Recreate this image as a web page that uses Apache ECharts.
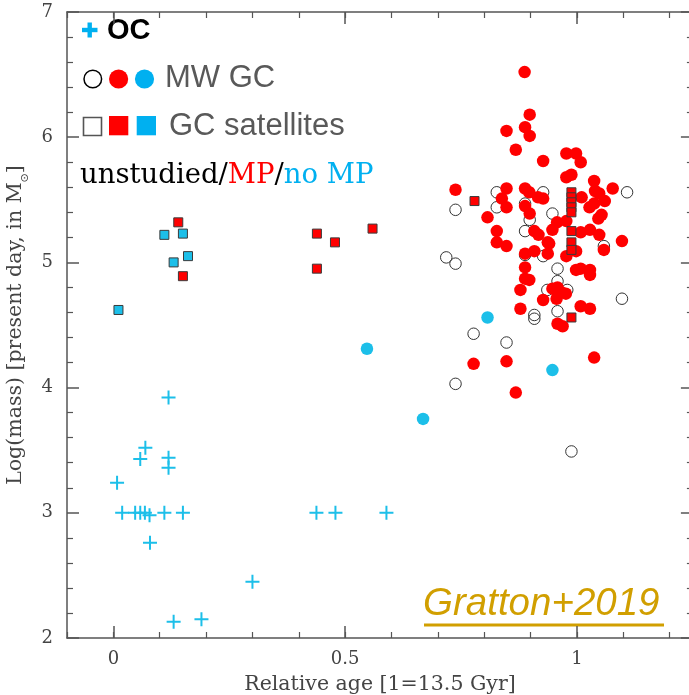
<!DOCTYPE html>
<html>
<head>
<meta charset="utf-8">
<title>Log(mass) vs relative age</title>
<script src="https://cdn.jsdelivr.net/npm/echarts@6/dist/echarts.min.js"></script>
<style>
  html, body { margin: 0; padding: 0; background: #fff; }
  #chart { width: 689px; height: 695px; }
</style>
</head>
<body>
<div id="chart"></div>
<script>
// Milky Way globular clusters: [relative age, log mass]
const mwUnstudied = [
  [0.827, 5.56], [0.738, 5.42], [0.827, 5.44], [0.927, 5.56], [0.888, 5.47],
  [0.898, 5.34], [0.947, 5.39], [0.888, 5.25], [1.108, 5.56], [1.058, 5.13],
  [0.718, 5.04], [0.738, 4.99], [0.888, 5.06], [0.927, 5.05], [0.958, 4.95],
  [0.958, 4.85], [0.936, 4.78], [0.979, 4.78], [0.958, 4.61], [0.908, 4.58],
  [0.908, 4.55], [1.097, 4.71], [0.777, 4.43], [0.848, 4.36], [0.738, 4.03],
  [0.988, 3.49]
];
const mwMP = [
  [0.887, 6.52], [0.898, 6.18], [0.848, 6.05], [0.888, 6.08], [0.898, 6.01],
  [0.868, 5.90], [0.927, 5.81], [0.977, 5.87], [0.998, 5.87], [1.008, 5.80],
  [0.977, 5.68], [0.988, 5.70], [1.037, 5.65], [1.077, 5.59], [0.738, 5.58],
  [0.848, 5.59], [0.838, 5.51], [0.848, 5.44], [0.807, 5.36], [0.827, 5.25],
  [0.827, 5.16], [0.848, 5.13], [0.888, 5.59], [0.897, 5.56], [0.916, 5.52],
  [0.927, 5.51], [0.888, 5.45], [0.898, 5.39], [0.957, 5.32], [0.977, 5.33],
  [0.947, 5.26], [0.908, 5.25], [0.917, 5.22], [0.937, 5.16], [1.010, 5.52],
  [1.039, 5.57], [1.048, 5.55], [1.027, 5.44], [1.037, 5.47], [1.060, 5.49],
  [1.053, 5.38], [1.046, 5.35], [1.008, 5.24], [1.028, 5.26], [1.048, 5.22],
  [1.097, 5.17], [1.058, 5.10], [0.888, 5.07], [0.908, 5.09], [0.937, 5.07],
  [0.940, 5.15], [0.998, 5.09], [0.977, 5.05], [0.888, 4.96], [0.998, 4.94],
  [1.008, 4.95], [1.028, 4.94], [1.028, 4.90], [0.888, 4.87], [0.897, 4.86],
  [0.878, 4.78], [0.947, 4.79], [0.958, 4.80], [0.967, 4.76], [0.976, 4.75],
  [0.927, 4.70], [0.956, 4.71], [0.878, 4.63], [1.008, 4.65], [1.028, 4.63],
  [0.958, 4.51], [0.969, 4.49], [0.777, 4.19], [0.848, 4.21], [1.037, 4.24],
  [0.868, 3.96]
];
const mwNoMP = [
  [0.547, 4.31], [0.807, 4.56], [0.668, 3.75], [0.947, 4.14]
];

// Globular clusters in satellite galaxies
const satMP = [
  [0.140, 5.32], [0.150, 4.89], [0.439, 5.23], [0.478, 5.16], [0.559, 5.27],
  [0.439, 4.95], [0.779, 5.49], [0.988, 5.56], [0.988, 5.52], [0.988, 5.48],
  [0.988, 5.44], [0.988, 5.40], [0.988, 5.25], [0.988, 5.16], [0.988, 5.10],
  [0.988, 4.56]
];
const satNoMP = [
  [0.110, 5.22], [0.150, 5.23], [0.161, 5.05], [0.130, 5.00], [0.011, 4.62]
];

// Open clusters
const openClusters = [
  [0.119, 3.92], [0.069, 3.52], [0.058, 3.43], [0.119, 3.44], [0.119, 3.36],
  [0.008, 3.24], [0.019, 3.00], [0.047, 3.00], [0.058, 3.00], [0.068, 3.00],
  [0.078, 2.98], [0.110, 3.00], [0.150, 3.00], [0.438, 3.00], [0.479, 3.00],
  [0.589, 3.00], [0.079, 2.76], [0.300, 2.45], [0.130, 2.13], [0.190, 2.15]
];

const xMajorTicks = [0, 0.5, 1];
const xTitle = 'Relative age [1=13.5 Gyr]';
const yTitle = 'Log(mass) [present day, in M{sub|\u2299}]';

const RED = '#ff0000';
const CYAN = '#1cbfe9';
const KEY_CYAN = '#00b0f0';
const AXIS = '#555555';
const tickFont = 'DejaVu Serif';
const plusPath = 'path://M6,0h2v6h6v2h-6v6h-2v-6h-6v-2h6z';

const chart = echarts.init(document.getElementById('chart'), null, { renderer: 'canvas' });

const xRange = { min: -0.1, max: 1.25 };
const xMajor = (pos, withLabels) => ({
  type: 'value', position: pos, ...xRange, gridIndex: 0,
  axisLine: { show: true, onZero: false, lineStyle: { color: AXIS, width: 1.5 } },
  axisTick: { show: true, inside: true, length: 12, customValues: xMajorTicks, lineStyle: { color: AXIS, width: 1.5 } },
  axisLabel: withLabels ? {
    show: true, customValues: xMajorTicks, margin: 12,
    fontFamily: tickFont, fontSize: 18, color: '#444'
  } : { show: false },
  splitLine: { show: false },
  name: withLabels ? xTitle : '',
  nameLocation: 'middle', nameGap: 36,
  nameTextStyle: { fontFamily: tickFont, fontSize: 20.5, color: '#444' }
});
const xMinor = (pos) => ({
  type: 'value', position: pos, ...xRange, interval: 0.1, gridIndex: 0,
  axisLine: { show: false },
  axisTick: { show: true, inside: true, length: 6, lineStyle: { color: AXIS, width: 1.2 } },
  axisLabel: { show: false },
  splitLine: { show: false }
});
const yAxisDef = (pos, withLabels) => ({
  type: 'value', position: pos, min: 2, max: 7, interval: 1,
  axisLine: { show: true, onZero: false, lineStyle: { color: AXIS, width: 1.5 } },
  axisTick: { show: true, inside: true, length: 12, lineStyle: { color: AXIS, width: 1.5 } },
  minorTick: { show: true, splitNumber: 5, length: 6, lineStyle: { color: AXIS, width: 1.2 } },
  axisLabel: withLabels ? { show: true, margin: 14, fontFamily: tickFont, fontSize: 18, color: '#444' } : { show: false },
  splitLine: { show: false },
  minorSplitLine: { show: false },
  name: withLabels ? yTitle : '',
  nameLocation: 'middle', nameGap: 27, nameRotate: 90,
  nameTextStyle: {
    fontFamily: tickFont, fontSize: 20.5, color: '#444',
    rich: { sub: { fontFamily: 'DejaVu Sans', fontSize: 11, color: '#444', verticalAlign: 'bottom', lineHeight: 11, padding: [0, 0, -4, 0] } }
  }
});

const option = {
  backgroundColor: '#ffffff',
  animation: false,
  grid: { left: 67, top: 12, width: 625.9, bottom: 57, containLabel: false, outerBoundsMode: 'none' },
  xAxis: [xMajor('bottom', true), xMinor('bottom'), xMajor('top', false), xMinor('top')],
  yAxis: [yAxisDef('left', true), yAxisDef('right', false)],
  series: [
    {
      name: 'MW GC unstudied', type: 'scatter', data: mwUnstudied, symbol: 'circle', symbolSize: 11.5,
      itemStyle: { color: 'rgba(0,0,0,0)', borderColor: '#333', borderWidth: 1, opacity: 1 }, z: 2
    },
    {
      name: 'MW GC MP', type: 'scatter', data: mwMP, symbol: 'circle', symbolSize: 12.5,
      itemStyle: { color: RED, opacity: 1 }, z: 3
    },
    {
      name: 'MW GC no MP', type: 'scatter', data: mwNoMP, symbol: 'circle', symbolSize: 12.5,
      itemStyle: { color: CYAN, opacity: 1 }, z: 3
    },
    {
      name: 'Satellite GC MP', type: 'scatter', data: satMP, symbol: 'rect', symbolSize: 9,
      itemStyle: { color: RED, borderColor: '#3a3a3a', borderWidth: 1, opacity: 1 }, z: 4
    },
    {
      name: 'Satellite GC no MP', type: 'scatter', data: satNoMP, symbol: 'rect', symbolSize: 9,
      itemStyle: { color: CYAN, borderColor: '#3a3a3a', borderWidth: 1, opacity: 1 }, z: 4
    },
    {
      name: 'OC', type: 'scatter', data: openClusters, symbol: plusPath, symbolSize: 14,
      itemStyle: { color: CYAN, opacity: 1 }, z: 5
    }
  ],
  graphic: [
    // key: open clusters
    { type: 'rect', shape: { x: 82, y: 27.8, width: 15.5, height: 4.4 }, style: { fill: KEY_CYAN } },
    { type: 'rect', shape: { x: 87.5, y: 22.5, width: 4.4, height: 15 }, style: { fill: KEY_CYAN } },
    { type: 'text', x: 107, y: 31, style: { text: 'OC', font: 'bold 29px "Liberation Sans", Arial', fill: '#000', verticalAlign: 'middle' } },
    // key: Milky Way globular clusters
    { type: 'circle', shape: { cx: 92.8, cy: 79, r: 8.8 }, style: { fill: 'none', stroke: '#000', lineWidth: 1.5 } },
    { type: 'circle', shape: { cx: 118.6, cy: 79, r: 9.6 }, style: { fill: RED } },
    { type: 'circle', shape: { cx: 144.5, cy: 79, r: 9.6 }, style: { fill: KEY_CYAN } },
    { type: 'text', x: 165, y: 78.5, style: { text: 'MW GC', font: '31px "Liberation Sans", Arial', fill: '#595959', verticalAlign: 'middle' } },
    // key: satellite globular clusters
    { type: 'rect', shape: { x: 83.5, y: 117.5, width: 18, height: 18 }, style: { fill: 'none', stroke: '#555', lineWidth: 1.6 } },
    { type: 'rect', shape: { x: 109, y: 116, width: 19.3, height: 19.3 }, style: { fill: RED } },
    { type: 'rect', shape: { x: 136.7, y: 116, width: 19.3, height: 19.3 }, style: { fill: KEY_CYAN } },
    { type: 'text', x: 169, y: 126.5, style: { text: 'GC satellites', font: '31px "Liberation Sans", Arial', fill: '#595959', verticalAlign: 'middle' } },
    // colour coding
    {
      type: 'text', x: 80, y: 176,
      style: {
        text: '{k|unstudied/}{r|MP}{k|/}{c|no MP}', verticalAlign: 'middle',
        rich: {
          k: { font: '27.5px "DejaVu Serif"', fill: '#000' },
          r: { font: '27.5px "DejaVu Serif"', fill: RED },
          c: { font: '27.5px "DejaVu Serif"', fill: KEY_CYAN }
        }
      }
    },
    // reference
    { type: 'text', x: 423, y: 604, style: { text: 'Gratton+2019', font: 'italic 38.5px "Liberation Sans", Arial', fill: '#d19f00', verticalAlign: 'middle' } },
    { type: 'rect', shape: { x: 424, y: 623.5, width: 240, height: 3 }, style: { fill: '#d19f00' } }
  ]
};

chart.setOption(option);
</script>
</body>
</html>
